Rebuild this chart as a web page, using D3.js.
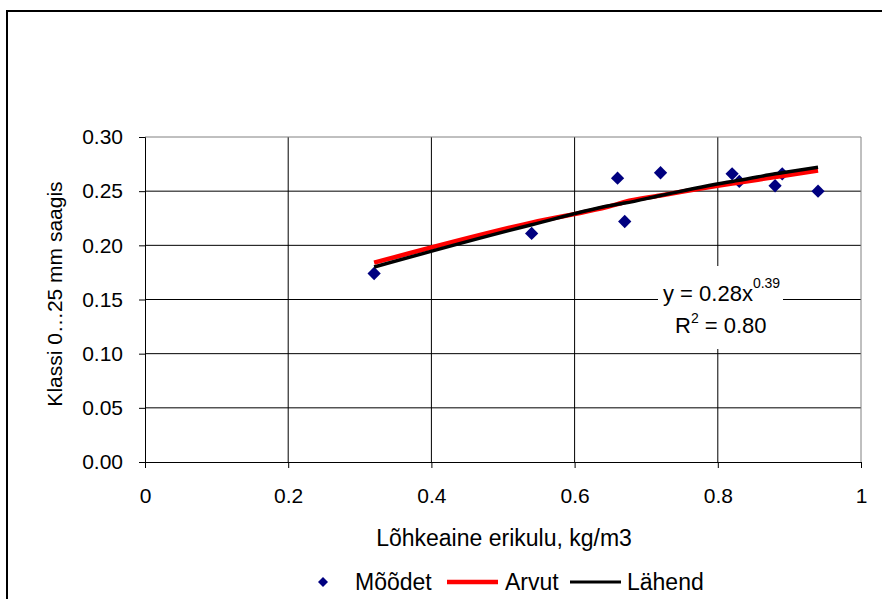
<!DOCTYPE html>
<html>
<head>
<meta charset="utf-8">
<script src="https://cdn.jsdelivr.net/npm/d3@7"></script>
<style>
  body { margin: 0; background: #fff; }
  svg text { font-family: "Liberation Sans", Arial, sans-serif; fill: #000; }
</style>
</head>
<body>
<div id="chart"></div>
<script>
// Andmed
const xValues = [0.32, 0.54, 0.66, 0.67, 0.72, 0.82, 0.83, 0.88, 0.89, 0.94]
const measured = [0.174, 0.211, 0.262, 0.222, 0.267, 0.266, 0.259, 0.255, 0.266, 0.250]
const computed = [0.184, 0.221, 0.238, 0.240, 0.246, 0.257, 0.258, 0.263, 0.264, 0.269]
const fitted = [0.180, 0.219, 0.238, 0.239, 0.246, 0.259, 0.260, 0.266, 0.267, 0.272]
const xTicks = [0, 0.2, 0.4, 0.6, 0.8, 1]
const yTicks = [0, 0.05, 0.10, 0.15, 0.20, 0.25, 0.30]
const legendLabels = ["Mõõdet", "Arvut", "Lähend"]

const width = 882, height = 599
const plot = { left: 145, right: 861, top: 137, bottom: 462 }

const svg = d3.select("#chart").append("svg")
    .attr("width", width)
    .attr("height", height)

// Välimine raam
svg.append("rect")
    .attr("x", 7).attr("y", 11)
    .attr("width", 900).attr("height", 620)
    .attr("fill", "#fff")
    .attr("stroke", "#000")
    .attr("stroke-width", 2)

const x = d3.scaleLinear().domain([0, 1]).range([plot.left, plot.right])
const y = d3.scaleLinear().domain([0, 0.3]).range([plot.bottom, plot.top])

// Ruudustik
svg.append("g")
    .selectAll("line")
    .data(yTicks.filter(d => d > 0 && d < 0.3))
    .join("line")
    .attr("x1", plot.left).attr("x2", plot.right)
    .attr("y1", d => y(d)).attr("y2", d => y(d))
    .attr("stroke", "#000")

svg.append("g")
    .selectAll("line")
    .data(xTicks.filter(d => d > 0 && d < 1))
    .join("line")
    .attr("x1", d => x(d)).attr("x2", d => x(d))
    .attr("y1", plot.top).attr("y2", plot.bottom)
    .attr("stroke", "#000")

// Joonise ala raam (hall)
svg.append("path")
    .attr("d", `M${plot.left},${plot.top}H${plot.right}V${plot.bottom}`)
    .attr("fill", "none")
    .attr("stroke", "#808080")

// Teljed
const yAxis = svg.append("g")
    .attr("transform", `translate(${plot.left},0)`)
    .call(d3.axisLeft(y).tickValues(yTicks).tickFormat(d3.format(".2f")).tickSize(6).tickPadding(16))
const xAxis = svg.append("g")
    .attr("transform", `translate(0,${plot.bottom})`)
    .call(d3.axisBottom(x).tickValues(xTicks).tickFormat(d => d === 0 || d === 1 ? d : d3.format(".1f")(d)).tickSize(6).tickPadding(20))

;[xAxis, yAxis].forEach(a => {
    a.select(".domain").attr("stroke", "#000")
    a.selectAll(".tick line").attr("stroke", "#000")
    a.selectAll("text").attr("font-size", 21).attr("fill", "#000")
})

// Telgede pealkirjad
svg.append("text")
    .attr("x", 504)
    .attr("y", 546)
    .attr("text-anchor", "middle")
    .attr("font-size", 23)
    .text("Lõhkeaine erikulu, kg/m3")

svg.append("text")
    .attr("transform", "translate(62,294) rotate(-90)")
    .attr("text-anchor", "middle")
    .attr("font-size", 21)
    .text("Klassi 0…25 mm saagis")

// Punktid
const pts = xValues.map((d, i) => ({ x: d, y: measured[i] }))
svg.append("g")
    .selectAll("path")
    .data(pts)
    .join("path")
    .attr("d", d3.symbol(d3.symbolSquare, 88))
    .attr("transform", d => `translate(${x(d.x)},${y(d.y)}) rotate(45)`)
    .attr("fill", "#000080")

// Jooned
const line = d3.line()
    .x(d => x(d.x))
    .y(d => y(d.y))
    .curve(d3.curveMonotoneX)

svg.append("path")
    .datum(xValues.map((d, i) => ({ x: d, y: computed[i] })))
    .attr("d", line)
    .attr("fill", "none")
    .attr("stroke", "#ff0000")
    .attr("stroke-width", 4.5)

svg.append("path")
    .datum(xValues.map((d, i) => ({ x: d, y: fitted[i] })))
    .attr("d", line)
    .attr("fill", "none")
    .attr("stroke", "#000")
    .attr("stroke-width", 3.5)

// Võrrandi silt
svg.append("rect")
    .attr("x", 658).attr("y", 266)
    .attr("width", 125).attr("height", 83)
    .attr("fill", "#fff")

const eq = svg.append("text")
    .attr("x", 663)
    .attr("y", 301)
    .attr("font-size", 22)
eq.append("tspan").text("y = 0.28x")
eq.append("tspan").attr("dy", -13).attr("font-size", 14).text("0.39")

const r2 = svg.append("text")
    .attr("x", 675)
    .attr("y", 333)
    .attr("font-size", 22)
r2.append("tspan").text("R")
r2.append("tspan").attr("dy", -10).attr("font-size", 14).text("2")
r2.append("tspan").attr("dy", 10).text(" = 0.80")

// Legend
const legend = svg.append("g").attr("transform", "translate(0,582)")

legend.append("path")
    .attr("d", d3.symbol(d3.symbolSquare, 50))
    .attr("transform", "translate(323,0) rotate(45)")
    .attr("fill", "#000080")
legend.append("text").attr("x", 355).attr("y", 8).attr("font-size", 23).text(legendLabels[0])

legend.append("line")
    .attr("x1", 447).attr("x2", 498)
    .attr("stroke", "#ff0000").attr("stroke-width", 4.5)
legend.append("text").attr("x", 505).attr("y", 8).attr("font-size", 23).text(legendLabels[1])

legend.append("line")
    .attr("x1", 570).attr("x2", 621)
    .attr("stroke", "#000").attr("stroke-width", 3)
legend.append("text").attr("x", 627).attr("y", 8).attr("font-size", 23).text(legendLabels[2])
</script>
</body>
</html>
